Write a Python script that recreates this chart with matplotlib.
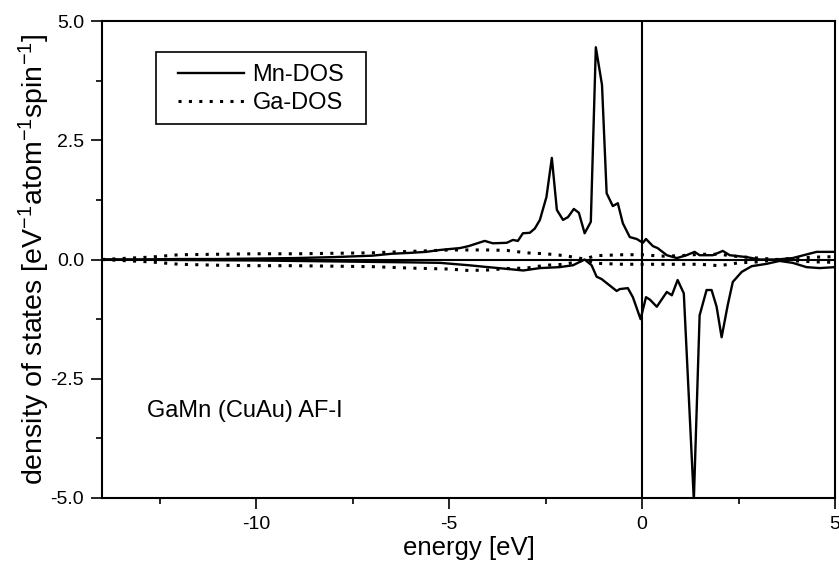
import numpy as np
import matplotlib
matplotlib.use('Agg')
import matplotlib.pyplot as plt
from matplotlib.ticker import MultipleLocator
from matplotlib.patches import Rectangle

plt.rcParams['font.family'] = ['Liberation Sans', 'DejaVu Sans']
plt.rcParams['mathtext.fontset'] = 'custom'
plt.rcParams['mathtext.rm'] = 'Liberation Sans'
plt.rcParams['mathtext.it'] = 'Liberation Sans:italic'
plt.rcParams['axes.unicode_minus'] = False

#Mn spin up / spin down DOS
mn_up_x = [-14.0, -13.0, -12.0, -11.0, -10.0, -9.0, -8.0, -7.0, -6.5, -6.0, -5.6, -5.24,
           -4.72, -4.5, -4.08, -3.87, -3.51, -3.35, -3.22, -3.09, -2.91, -2.78, -2.65,
           -2.48, -2.34, -2.21, -2.05, -1.92, -1.77, -1.64, -1.49, -1.33, -1.20, -1.04,
           -0.92, -0.76, -0.63, -0.50, -0.32, -0.14, 0.02, 0.10, 0.28, 0.40, 0.64, 0.90,
           1.15, 1.36, 1.49, 1.83, 2.09, 2.27, 2.71, 3.05, 3.49, 3.90, 4.52, 5.0]
mn_up_y = [0.0, 0.0, 0.01, 0.01, 0.02, 0.03, 0.05, 0.08, 0.12, 0.14, 0.16, 0.20,
           0.24, 0.28, 0.39, 0.34, 0.35, 0.41, 0.39, 0.55, 0.56, 0.65, 0.83,
           1.31, 2.13, 1.04, 0.83, 0.89, 1.06, 0.98, 0.55, 0.79, 4.45, 3.66,
           1.39, 1.12, 1.18, 0.76, 0.47, 0.43, 0.35, 0.43, 0.28, 0.24, 0.09, 0.03,
           0.09, 0.16, 0.09, 0.09, 0.18, 0.09, 0.05, 0.0, 0.0, 0.03, 0.16, 0.16]

mn_dn_x = [-14.0, -12.0, -10.0, -8.0, -7.0, -6.0, -5.24, -4.5, -4.12, -3.46, -3.08, -2.65,
           -2.14, -1.79, -1.49, -1.31, -1.18, -1.05, -0.66, -0.58, -0.37, -0.24, -0.04,
           0.10, 0.20, 0.38, 0.64, 0.77, 0.92, 1.08, 1.34, 1.49, 1.67, 1.80, 1.93, 2.06,
           2.22, 2.35, 2.58, 2.84, 3.23, 3.56, 3.90, 4.26, 4.60, 5.0]
mn_dn_y = [0.0, -0.01, -0.02, -0.04, -0.05, -0.06, -0.07, -0.12, -0.15, -0.20, -0.23, -0.18,
           -0.16, -0.12, 0.0, -0.12, -0.36, -0.41, -0.66, -0.62, -0.60, -0.79, -1.25,
           -0.79, -0.84, -0.99, -0.68, -0.75, -0.43, -0.71, -5.05, -1.17, -0.64, -0.64, -0.99, -1.63,
           -0.95, -0.47, -0.26, -0.14, -0.09, -0.03, -0.07, -0.16, -0.18, -0.16]

#Ga spin up / spin down DOS
ga_x = [-14.0, -13.5, -12.75, -12.0, -11.0, -10.0, -9.0, -8.0, -7.0, -6.0, -5.0, -4.5, -4.0,
        -3.5, -3.0, -2.5, -2.0, -1.5, -1.2, -0.5, 0.0, 0.5, 1.0, 1.5, 2.0, 2.5, 3.0,
        3.5, 4.0, 4.5, 5.0]
ga_up_y = [0.0, 0.02, 0.05, 0.10, 0.11, 0.12, 0.12, 0.13, 0.14, 0.17, 0.20, 0.20, 0.20,
           0.19, 0.14, 0.12, 0.08, 0.01, 0.08, 0.10, 0.10, 0.07, 0.08, 0.11, 0.11, 0.06, 0.03,
           0.0, 0.03, 0.05, 0.06]
ga_dn_y = [0.0, -0.02, -0.05, -0.10, -0.12, -0.13, -0.13, -0.14, -0.15, -0.18, -0.20, -0.23, -0.22,
           -0.19, -0.18, -0.12, -0.10, -0.01, -0.08, -0.10, -0.10, -0.10, -0.10, -0.10, -0.13, -0.07, -0.05,
           0.0, -0.03, -0.05, -0.06]

fig = plt.figure(figsize=(8.39, 5.65), dpi=100)
ax = fig.add_axes([0.1215, 0.1186, 0.8738, 0.8442])

dots = (0, (1, 2.4))
ax.axhline(0, color='k', lw=1.5, zorder=1)
ax.axvline(0, color='k', lw=1.5, zorder=1)
ax.plot(mn_up_x, mn_up_y, '-k', lw=1.7, label='Mn-DOS')
ax.plot(mn_dn_x, mn_dn_y, '-k', lw=1.7)
ax.plot(ga_x, ga_up_y, color='k', lw=2.2, linestyle=dots, label='Ga-DOS')
ax.plot(ga_x, ga_dn_y, color='k', lw=2.2, linestyle=dots)

ax.set_xlim(-14, 5)
ax.set_ylim(-5, 5)
ax.xaxis.set_major_locator(MultipleLocator(5))
ax.xaxis.set_minor_locator(MultipleLocator(2.5))
ax.yaxis.set_major_locator(MultipleLocator(2.5))
ax.yaxis.set_minor_locator(MultipleLocator(1.25))
ax.yaxis.set_major_formatter(matplotlib.ticker.FormatStrFormatter('%.1f'))
ax.tick_params(which='major', direction='out', length=8, width=1.2, labelsize=14, pad=5)
ax.tick_params(which='minor', direction='out', length=4.5, width=1.2)
for s in ax.spines.values():
    s.set_linewidth(1.5)

ax.set_xlabel('energy [eV]', fontsize=18.5, labelpad=2)
ax.set_ylabel('density of states [eV$^{-1}$atom$^{-1}$spin$^{-1}$]', fontsize=20.5, labelpad=-1)

ax.text(0.062, 0.17, 'GaMn (CuAu) AF-I', transform=ax.transAxes, fontsize=17)

#legend box drawn separately so the padding can match
ax.add_patch(Rectangle((0.0738, 0.784), 0.2865, 0.151, transform=ax.transAxes,
                       fill=False, edgecolor='k', lw=1.2, zorder=5))
leg = ax.legend(loc='upper left', bbox_to_anchor=(0.1038, 0.910), borderaxespad=0,
                fontsize=17, handlelength=2.8, handletextpad=0.35, labelspacing=0.25,
                borderpad=0, frameon=False)

plt.savefig('out.png', dpi=100)
